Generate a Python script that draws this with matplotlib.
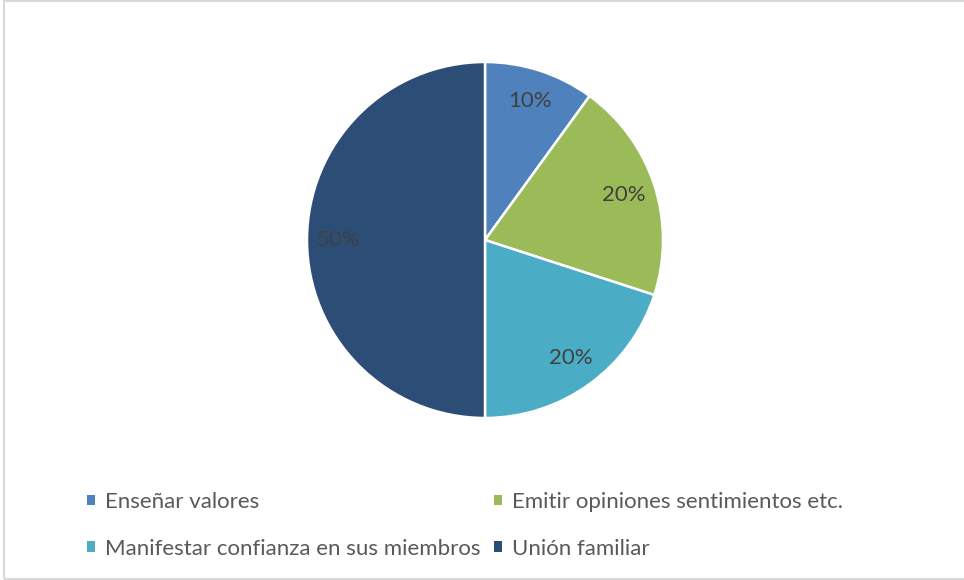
import matplotlib
matplotlib.use('Agg')
import matplotlib.pyplot as plt
from matplotlib.patches import Patch, Rectangle

# datos
categorias = ['Enseñar valores', 'Emitir opiniones sentimientos etc.',
              'Manifestar confianza en sus miembros', 'Unión familiar']
valores = [10, 20, 20, 50]
colores = ['#4F81BD', '#9BBB59', '#4BACC6', '#2C4D75']

plt.rcParams['font.family'] = ['Lato', 'DejaVu Sans']

W, H = 964, 580
fig = plt.figure(figsize=(W / 100, H / 100), dpi=100)

# pie centrado en (485, 240) px, radio 178 px
cx, cy, r = 485, 240, 178
ax = fig.add_axes([(cx - r) / W, (H - cy - r) / H, 2 * r / W, 2 * r / H])
wedges, texts, autotexts = ax.pie(
    valores, colors=colores, startangle=90, counterclock=False,
    autopct='%1.0f%%', pctdistance=0.82, radius=1,
    wedgeprops=dict(edgecolor='white', linewidth=1.8),
    textprops=dict(color='#404040', fontsize=16))
ax.set_xlim(-1, 1)
ax.set_ylim(-1, 1)
ax.set_aspect('equal')

# leyenda (orden por columnas)
orden = [0, 2, 1, 3]
handles = [Patch(facecolor=colores[i], edgecolor='none') for i in orden]
labels = [categorias[i] for i in orden]
fig.legend(handles, labels, ncol=2, loc='upper left',
           bbox_to_anchor=(87 / W, 1 - 492 / H), frameon=False,
           fontsize=16, labelcolor='#595959', borderpad=0, borderaxespad=0,
           handlelength=0.37, handleheight=0.37, handletextpad=0.45,
           columnspacing=0.6, labelspacing=1.2)

# marco del gráfico
fig.patches.append(Rectangle((3.5 / W, 1.5 / H), 1, 1 - 2.5 / H,
                             transform=fig.transFigure, fill=False,
                             edgecolor='#D9D9D9', linewidth=1.5))

fig.savefig('out.png', dpi=100)
